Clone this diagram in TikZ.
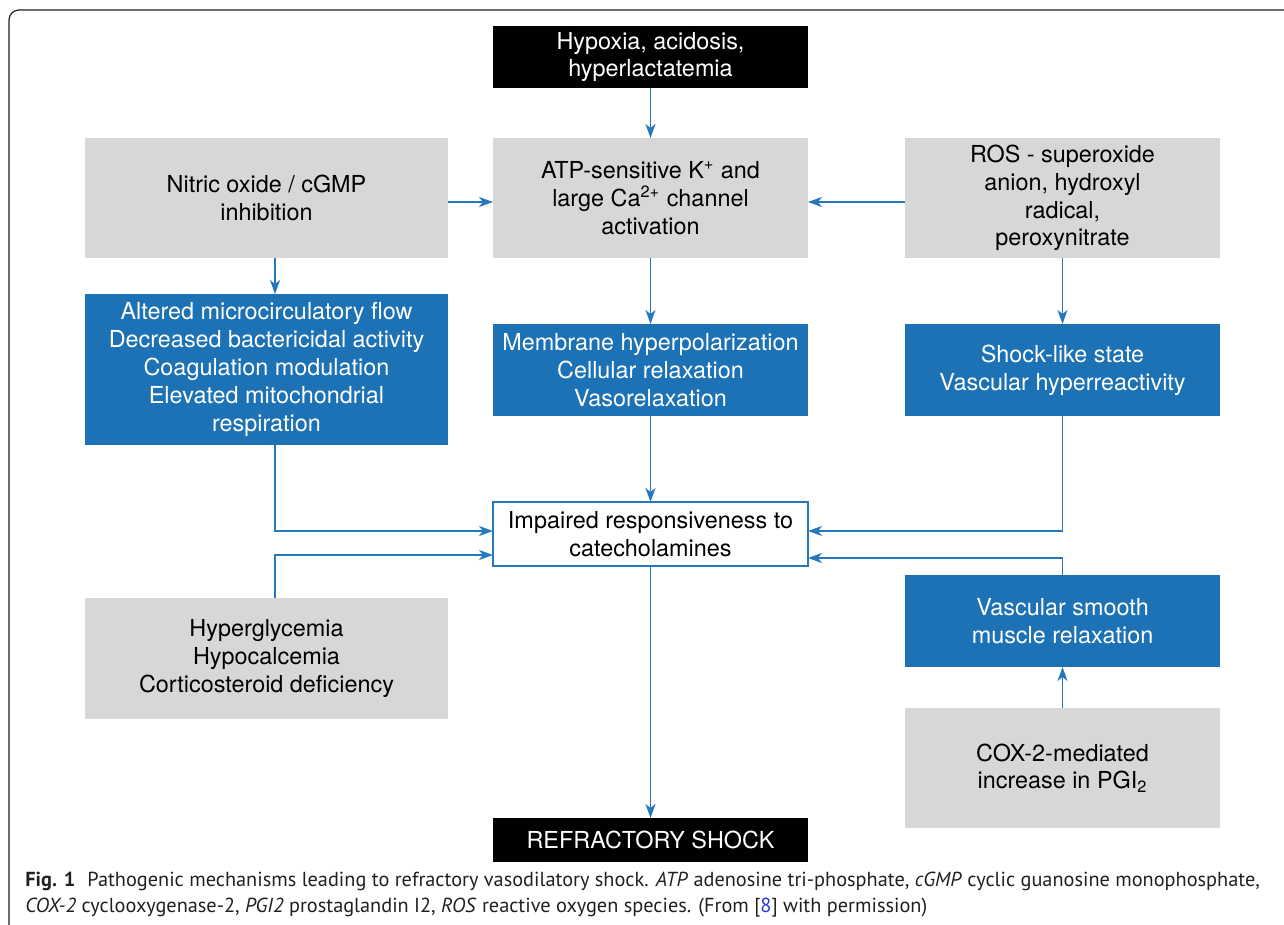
\documentclass[tikz,border=0pt]{standalone}
\usepackage{fontspec}
\setmainfont{TeX Gyre Heros}
\newfontfamily\captionfont{PT Sans}
\usepackage{xcolor}
\usepackage{tikz}
\usetikzlibrary{arrows.meta}
\usetikzlibrary{positioning}
\definecolor{boxblue}{RGB}{28,114,180}
\definecolor{boxgray}{RGB}{215,215,215}
\definecolor{linkblue}{RGB}{38,120,190}
\definecolor{citeblue}{RGB}{40,60,220}
\definecolor{framegray}{RGB}{35,31,32}
\tikzset{>={Stealth[length=7pt,width=5pt,inset=2pt]}}
\tikzset{
  box/.style={minimum width=157.5pt, align=center, inner sep=1pt, outer sep=0pt,
    font=\fontsize{11.7}{13.9}\selectfont},
  blackbox/.style={box, fill=black, text=white},
  graybox/.style={box, fill=boxgray},
  bluebox/.style={box, fill=boxblue, text=white},
  whitebox/.style={box, draw=linkblue, line width=0.75pt, fill=white},
  wide/.style={minimum width=181.5pt},
  link/.style={->, draw=linkblue, line width=0.8pt}
}

\begin{document}
\begin{tikzpicture}[x=0.5pt, y=-0.5pt]
  \useasboundingbox (0,0) rectangle (1284,925);
  \draw[framegray, line width=0.6pt, rounded corners=5pt] (9,925) -- (9,10) -- (1284,10);

  % centre column
  \node[blackbox, minimum height=31pt] (hypoxia) at (650.5,57) {Hypoxia, acidosis,\\hyperlactatemia};
  \node[graybox, minimum height=60pt, below=25pt of hypoxia] (atp) {ATP-sensitive K\textsuperscript{+} and\\large Ca\textsuperscript{2+} channel\\activation};
  \node[bluebox, minimum height=46pt, below=33pt of atp] (membrane) {Membrane hyperpolarization\\Cellular relaxation\\Vasorelaxation};
  \node[whitebox, minimum height=32pt, below=43pt of membrane] (impaired) {Impaired responsiveness to\\catecholamines};
  \node[blackbox, minimum height=22pt, below=126pt of impaired] (refractory) {REFRACTORY SHOCK};

  % left column
  \node[graybox, wide, minimum height=60pt, left=22.5pt of atp] (nitric) {Nitric oxide / cGMP\\inhibition};
  \node[bluebox, wide, minimum height=75.5pt, below=18pt of nitric] (altered) {Altered microcirculatory flow\\Decreased bactericidal activity\\Coagulation modulation\\Elevated mitochondrial\\respiration};
  \node[graybox, wide, minimum height=60.5pt, below=76.5pt of altered] (metabolic) {Hyperglycemia\\Hypocalcemia\\Corticosteroid deficiency};
  \coordinate (lcol) at (275,0);

  % right column
  \node[graybox, minimum height=60pt, right=48.5pt of atp] (ros) {ROS - superoxide\\anion, hydroxyl\\radical,\\peroxynitrate};
  \node[bluebox, minimum height=46pt, below=33pt of ros] (shocklike) {Shock-like state\\Vascular hyperreactivity};
  \node[bluebox, minimum height=46pt, below=79.5pt of shocklike] (smooth) {Vascular smooth\\muscle relaxation};
  \node[graybox, minimum height=60pt, below=20.5pt of smooth] (cox) {COX-2-mediated\\increase in PGI\textsubscript{2}};

  % connectors
  \draw[link] (hypoxia) -- (atp);
  \draw[link] ([yshift=-2pt]nitric.east) -- ([yshift=-2pt]atp.west);
  \draw[link] ([yshift=-2pt]ros.west) -- ([yshift=-2pt]atp.east);
  \draw[link] (nitric.south -| lcol) -- (altered.north -| lcol);
  \draw[link] (atp) -- (membrane);
  \draw[link] (ros) -- (shocklike);
  \draw[link] (membrane) -- (impaired);
  \draw[link] (altered.south -| lcol) |- ([yshift=1.5pt]impaired.west);
  \draw[link] (metabolic.north -| lcol) |- ([yshift=-10.5pt]impaired.west);
  \draw[link] (shocklike) |- ([yshift=1.5pt]impaired.east);
  \draw[link] (smooth) |- ([yshift=-12pt]impaired.east);
  \draw[link] (cox) -- (smooth);
  \draw[link] (impaired) -- (refractory);

  % caption
  \node[anchor=north west, inner sep=0pt, align=left, text=framegray,
    font=\captionfont\fontsize{10.15}{13}\selectfont] (caption) at (25,872)
    {\textbf{Fig. 1}\hspace{6pt}Pathogenic mechanisms leading to refractory vasodilatory shock. \textit{ATP} adenosine tri-phosphate, \textit{cGMP} cyclic guanosine monophosphate,\\
     \textit{COX-2} cyclooxygenase-2, \textit{PGI2} prostaglandin I2, \textit{ROS} reactive oxygen species. (From [\textcolor{citeblue}{8}] with permission)};
\end{tikzpicture}
\end{document}
